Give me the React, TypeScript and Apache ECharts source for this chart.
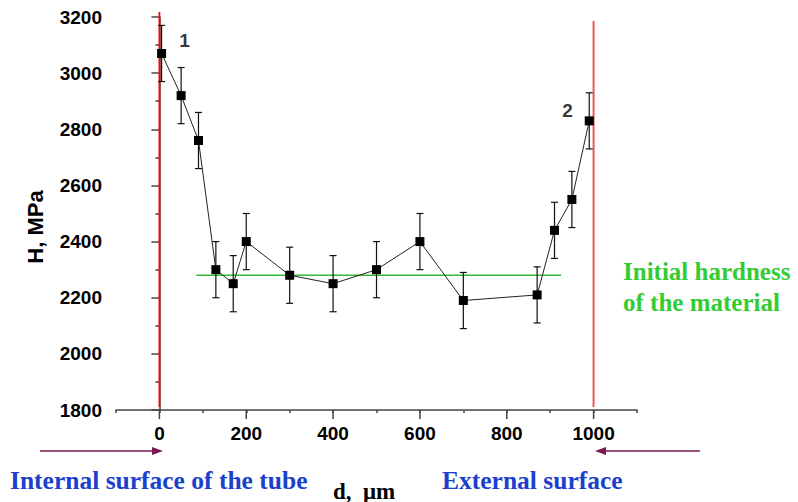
import React, { useEffect, useRef } from "react";
import * as echarts from "echarts";

const depths = [5, 50, 90, 130, 170, 200, 300, 400, 500, 600, 700, 870, 910, 950, 990];
const hardness = [3070, 2920, 2760, 2300, 2250, 2400, 2280, 2250, 2300, 2400, 2190, 2210, 2440, 2550, 2830];
const errors = [100, 100, 100, 100, 100, 100, 100, 100, 100, 100, 100, 100, 100, 100, 100];
const initialHardness = 2280;
const initialRange = [85, 925];
const surfaceLeft = [[0, 3218], [0, 1811]];
const surfaceRight = [[1000, 3186], [1000, 1811]];
const majorXTicks = [0, 200, 400, 600, 800, 1000];
const curveLabels = [
  { x: 58, y: 3118, text: "1" },
  { x: 940, y: 2866, text: "2" },
];

const SANS = "'Liberation Sans', Arial, sans-serif";
const SERIF = "'Liberation Serif', 'Times New Roman', serif";

export default function App() {
  const ref = useRef<HTMLDivElement>(null);
  useEffect(() => {
    document.body.style.margin = "0";
    const chart = echarts.init(ref.current!, null, { renderer: "svg" });
    const option: any = {
      animation: false,
      backgroundColor: "#ffffff",
      grid: { left: 116, right: 161, top: 17, bottom: 92, containLabel: false },
      xAxis: {
        type: "value",
        min: -100,
        max: 1100,
        interval: 100,
        splitLine: { show: false },
        axisLine: { show: true, onZero: false, lineStyle: { color: "#444", width: 1.5 } },
        axisTick: { show: true, length: 3, lineStyle: { color: "#444", width: 1.5 } },
        axisLabel: {
          margin: 14,
          fontSize: 19,
          fontWeight: "bold",
          fontFamily: SANS,
          color: "#000",
          formatter: (v: number) => (v >= 0 && v <= 1000 && v % 200 === 0 ? String(v) : ""),
        },
      },
      yAxis: {
        type: "value",
        min: 1800,
        max: 3200,
        interval: 200,
        splitLine: { show: false },
        axisLine: { show: true, lineStyle: { color: "#444", width: 1.5 } },
        axisTick: { show: true, length: 8, lineStyle: { color: "#444", width: 1.5 } },
        minorTick: { show: true, splitNumber: 2, length: 4, lineStyle: { color: "#444", width: 1.5 } },
        axisLabel: {
          margin: 14,
          fontSize: 19,
          fontWeight: "bold",
          fontFamily: SANS,
          color: "#000",
          formatter: (v: number) => String(v),
        },
      },
      series: [
        {
          type: "custom",
          clip: false,
          silent: true,
          data: majorXTicks.map((v) => [v, 1800]),
          renderItem: (params: any, api: any) => {
            const p = api.coord([api.value(0), api.value(1)]);
            return {
              type: "line",
              shape: { x1: p[0], y1: p[1], x2: p[0], y2: p[1] + 9 },
              style: { stroke: "#444", lineWidth: 1.5 },
            };
          },
        },
        {
          type: "line",
          data: surfaceLeft,
          clip: false,
          symbol: "none",
          silent: true,
          lineStyle: { color: "#ff0000", width: 1.8 },
          z: 1,
        },
        {
          type: "line",
          data: surfaceRight,
          clip: false,
          symbol: "none",
          silent: true,
          lineStyle: { color: "#ee5555", width: 2 },
          z: 1,
        },
        {
          type: "line",
          data: [
            [initialRange[0], initialHardness],
            [initialRange[1], initialHardness],
          ],
          symbol: "none",
          silent: true,
          lineStyle: { color: "#33bb33", width: 1.3 },
          z: 2,
        },
        {
          type: "custom",
          silent: true,
          z: 3,
          data: depths.map((d, i) => [d, hardness[i], errors[i]]),
          renderItem: (params: any, api: any) => {
            const x = api.value(0);
            const y = api.value(1);
            const e = api.value(2);
            const top = api.coord([x, y + e]);
            const bot = api.coord([x, y - e]);
            const w = 3.5;
            const st = { stroke: "#111", lineWidth: 1.2 };
            return {
              type: "group",
              children: [
                { type: "line", shape: { x1: top[0], y1: top[1], x2: bot[0], y2: bot[1] }, style: st },
                { type: "line", shape: { x1: top[0] - w, y1: top[1], x2: top[0] + w, y2: top[1] }, style: st },
                { type: "line", shape: { x1: bot[0] - w, y1: bot[1], x2: bot[0] + w, y2: bot[1] }, style: st },
              ],
            };
          },
        },
        {
          type: "line",
          data: depths.map((d, i) => [d, hardness[i]]),
          symbol: "rect",
          symbolSize: 9,
          itemStyle: { color: "#000" },
          lineStyle: { color: "#222", width: 1 },
          z: 4,
        },
        {
          type: "scatter",
          data: curveLabels.map((c) => ({ value: [c.x, c.y], name: c.text })),
          symbolSize: 0,
          itemStyle: { color: "transparent" },
          silent: true,
          z: 5,
          label: {
            show: true,
            position: "inside",
            formatter: (p: any) => p.name,
            fontSize: 19,
            fontWeight: "bold",
            fontFamily: SANS,
            color: "#000",
          },
        },
      ],
      graphic: [
        {
          type: "text",
          x: 35,
          y: 227,
          rotation: Math.PI / 2,
          style: { x: 0, y: 0, text: "H, MPa", font: `bold 22px ${SANS}`, fill: "#000", textAlign: "center", textVerticalAlign: "middle" },
        },
        { type: "line", shape: { x1: 40, y1: 451, x2: 155, y2: 451 }, style: { stroke: "#7a1a50", lineWidth: 1.5 } },
        { type: "polygon", shape: { points: [[152, 447], [163, 451], [152, 455]] }, style: { fill: "#7a1a50" } },
        { type: "line", shape: { x1: 700, y1: 451, x2: 604, y2: 451 }, style: { stroke: "#7a1a50", lineWidth: 1.5 } },
        { type: "polygon", shape: { points: [[606, 447], [595, 451], [606, 455]] }, style: { fill: "#7a1a50" } },
        {
          type: "text",
          style: { x: 10, y: 480, text: "Internal surface of the tube", font: `bold 25.5px ${SERIF}`, fill: "#1a40cc", textAlign: "left", textVerticalAlign: "middle" },
        },
        {
          type: "text",
          style: { x: 442, y: 480, text: "External surface", font: `bold 25.5px ${SERIF}`, fill: "#1a40cc", textAlign: "left", textVerticalAlign: "middle" },
        },
        {
          type: "text",
          style: { x: 333, y: 491, text: "d,  μm", font: `bold 23px ${SERIF}`, fill: "#000", textAlign: "left", textVerticalAlign: "middle" },
        },
        {
          type: "text",
          style: { x: 623, y: 271, text: "Initial hardness", font: `bold 25px ${SERIF}`, fill: "#33cc33", textAlign: "left", textVerticalAlign: "middle" },
        },
        {
          type: "text",
          style: { x: 623, y: 302, text: "of the material", font: `bold 25px ${SERIF}`, fill: "#33cc33", textAlign: "left", textVerticalAlign: "middle" },
        },
      ],
    };
    chart.setOption(option);
    return () => chart.dispose();
  }, []);
  return <div ref={ref} style={{ width: 798, height: 502 }} />;
}
